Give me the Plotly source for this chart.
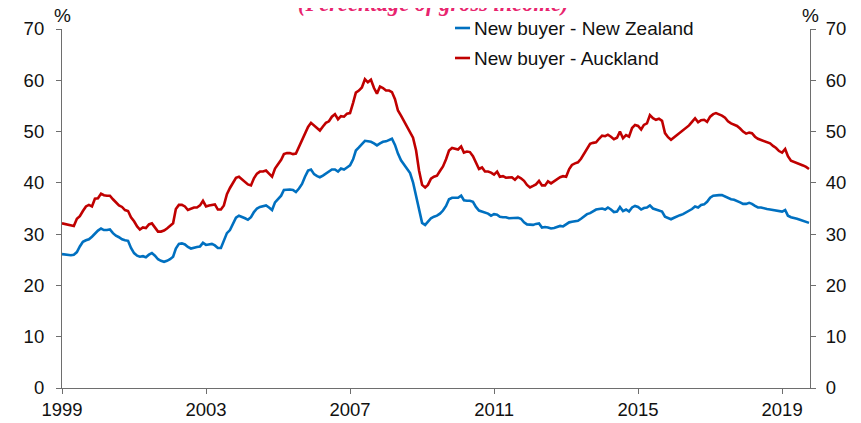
import pandas as pd
import plotly.graph_objects as go

start_month = "1999-01-01"

nz = [
    26.1, 26.0, 25.9, 25.9, 26.0, 26.5, 27.6, 28.5, 28.8, 29.0, 29.5, 30.2,
    30.7, 31.1, 30.8, 30.8, 30.9, 30.2, 29.7, 29.4, 29.0, 28.8, 28.7, 27.3,
    26.3, 25.8, 25.6, 25.7, 25.5, 26.0, 26.3, 25.8, 25.1, 24.8, 24.6, 24.8,
    25.1, 25.6, 27.2, 28.1, 28.2, 28.0, 27.5, 27.2, 27.4, 27.5, 27.6, 28.3,
    27.9, 28.0, 28.1, 27.8, 27.3, 27.3, 28.8, 30.2, 30.8, 32.1, 33.2, 33.6,
    33.4, 33.1, 32.8, 33.3, 34.3, 35.0, 35.3, 35.4, 35.6, 35.2, 34.7, 36.2,
    36.9, 37.5, 38.6, 38.7, 38.7, 38.6, 38.2, 38.9, 39.8, 41.2, 42.4, 42.6,
    41.7, 41.3, 41.1, 41.4, 41.8, 42.3, 42.6, 42.6, 42.2, 42.8, 42.6, 43.0,
    43.4, 44.6, 46.3, 46.9, 47.5, 48.2, 48.1, 48.0, 47.7, 47.3, 47.7, 48.0,
    48.1, 48.4, 48.6, 47.4, 45.7, 44.4, 43.5, 42.7, 41.9, 40.1, 37.2, 34.5,
    32.2, 31.8, 32.4, 33.1, 33.4, 33.6, 34.0, 34.6, 35.5, 36.8, 37.1, 37.1,
    37.1, 37.5, 36.6, 36.5, 36.5, 36.3, 35.3, 34.6, 34.4, 34.2, 34.0, 33.6,
    33.9, 33.8, 33.4, 33.3, 33.3, 33.1, 33.1, 33.1, 33.2, 33.0, 32.3, 31.9,
    31.8, 31.8, 32.0, 32.1, 31.3, 31.4, 31.3, 31.1, 31.2, 31.4, 31.6, 31.5,
    31.9, 32.3, 32.4, 32.5, 32.6, 33.0, 33.5, 33.9, 34.1, 34.4, 34.8, 34.9,
    35.0, 34.8, 35.2, 34.8, 34.3, 34.4, 35.3, 34.5, 34.8, 34.4, 35.2, 35.5,
    35.3, 34.8, 35.1, 35.2, 35.6, 35.0, 34.8, 34.7, 34.4, 33.4, 33.1, 32.9,
    33.2, 33.5, 33.7, 33.9, 34.2, 34.5, 34.9, 35.4, 35.2, 35.7, 35.8, 36.3,
    37.1, 37.5, 37.6, 37.6, 37.6, 37.3, 37.0, 36.8, 36.7, 36.5, 36.2, 35.9,
    35.9, 36.1, 35.9, 35.5, 35.2, 35.2, 35.0, 34.9, 34.8, 34.7, 34.5, 34.4,
    34.4, 34.7, 33.6, 33.3, 33.2, 33.0, 32.8, 32.6, 32.4, 32.2,
]

akl = [
    32.1, 32.0, 31.9, 31.7, 31.6, 33.0, 33.5, 34.5, 35.4, 35.7, 35.4, 36.9,
    37.0, 37.9, 37.6, 37.5, 37.5, 36.8, 36.1, 35.6, 35.3, 34.7, 34.5, 33.3,
    32.5, 31.5, 30.9, 31.3, 31.2, 31.9, 32.1, 31.2, 30.5, 30.5, 30.7, 31.1,
    31.6, 32.1, 34.9, 35.7, 35.7, 35.4, 34.7, 35.0, 35.2, 35.2, 35.6, 36.5,
    35.4, 35.6, 35.7, 35.8, 34.8, 34.8, 35.6, 37.8, 39.0, 40.1, 41.0, 41.2,
    40.7, 40.2, 39.7, 39.5, 40.9, 41.8, 42.2, 42.2, 42.4, 41.8, 41.2, 42.8,
    43.6, 44.5, 45.6, 45.8, 45.8, 45.6, 45.7, 47.1, 48.5, 49.6, 50.9, 51.7,
    51.2, 50.7, 50.2, 51.0, 51.7, 52.0, 52.9, 53.4, 52.4, 53.0, 52.9, 53.5,
    53.6, 55.6, 57.6, 58.0, 58.6, 60.2, 59.6, 60.1, 58.5, 57.4, 58.8, 58.5,
    58.0, 58.0, 57.7, 56.3, 54.1, 53.1, 52.0, 51.0, 49.9, 48.8, 46.3, 42.4,
    39.6, 39.1, 39.6, 40.8, 41.2, 41.4, 42.3, 43.2, 44.6, 46.3, 46.8, 46.7,
    46.5, 47.1, 45.9, 46.1, 46.0, 45.2, 43.8, 42.7, 43.0, 42.2, 42.2, 42.0,
    41.6, 42.2, 41.2, 41.3, 41.0, 41.0, 41.1, 40.6, 41.2, 40.9, 40.4, 39.6,
    39.1, 39.4, 39.7, 40.4, 39.5, 39.5, 40.3, 39.9, 40.3, 40.7, 41.1, 41.3,
    41.2, 42.7, 43.5, 43.8, 44.0, 44.7, 45.6, 46.8, 47.6, 47.8, 47.9, 48.6,
    49.2, 49.1, 49.4, 49.0, 48.5, 48.8, 50.0, 48.7, 49.3, 49.0, 50.7, 51.3,
    51.1, 50.4, 51.3, 51.6, 53.2, 52.6, 52.3, 52.5, 52.1, 49.7, 48.9, 48.4,
    48.9, 49.4, 49.8, 50.3, 50.8, 51.2, 51.9, 52.6, 51.8, 52.2, 52.3, 51.9,
    52.9, 53.4, 53.6, 53.4, 53.1, 52.7, 52.0, 51.6, 51.4, 51.1, 50.6, 50.0,
    49.6, 49.8, 49.7, 49.0, 48.6, 48.4, 48.2, 48.0, 47.7, 47.2, 46.8, 46.2,
    45.9, 46.6, 45.2, 44.3, 44.1, 43.8, 43.6, 43.4, 43.1, 42.7,
]

series_names = ["New buyer - New Zealand", "New buyer - Auckland"]
x_tick_dates = ["1999-01-01", "2003-01-01", "2007-01-01", "2011-01-01", "2015-01-01", "2019-01-01"]
x_tick_labels = ["1999", "2003", "2007", "2011", "2015", "2019"]
y_ticks = [0, 10, 20, 30, 40, 50, 60, 70]
title_text = "(Percentage of gross income)"

dates = pd.date_range(start_month, periods=len(nz), freq="MS")

BLUE = "#0070C0"
RED = "#C00000"
AXIS = "#6e6e6e"
FONT = "Liberation Sans, Arial, sans-serif"
colors = [BLUE, RED]

fig = go.Figure()
fig.add_trace(go.Scatter(x=dates, y=nz, mode="lines", name=series_names[0],
                         line=dict(color=BLUE, width=2.6), yaxis="y"))
fig.add_trace(go.Scatter(x=dates, y=akl[:len(dates)], mode="lines", name=series_names[1],
                         line=dict(color=RED, width=2.6), yaxis="y2"))

axis_common = dict(
    showgrid=False, zeroline=False, showline=True, linecolor=AXIS, linewidth=1.2,
    ticks="outside", ticklen=5, tickcolor=AXIS, tickwidth=1.2, automargin=False,
    tickfont=dict(family=FONT, size=18.5, color="#111111"),
)

# Legend drawn as key lines + text (placed just above / inside the plot top)
legend_x_line0, legend_x_line1, legend_x_text = 0.5254, 0.5455, 0.5481
legend_row_shift = [1, -29]
shapes = []
annotations = []
for name, col, dy in zip(series_names, colors, legend_row_shift):
    shapes.append(dict(type="line", xref="paper", yref="paper",
                       ysizemode="pixel", yanchor=1.0,
                       x0=legend_x_line0, x1=legend_x_line1, y0=dy, y1=dy,
                       line=dict(color=col, width=2.6)))
    annotations.append(dict(text=name, xref="paper", yref="paper",
                            x=legend_x_text, y=1.0, yshift=dy,
                            xanchor="left", yanchor="middle", showarrow=False,
                            font=dict(family=FONT, size=19, color="#111111")))

annotations += [
    dict(text="%", xref="paper", yref="paper", x=0, y=1.0, yshift=1,
         xanchor="center", yanchor="bottom", showarrow=False,
         font=dict(family=FONT, size=19, color="#111111")),
    dict(text="%", xref="paper", yref="paper", x=1, y=1.0, yshift=1,
         xanchor="center", yanchor="bottom", showarrow=False,
         font=dict(family=FONT, size=19, color="#111111")),
    dict(text="<b><i>" + title_text + "</i></b>", xref="paper", yref="paper",
         x=0.496, y=1.0, yshift=26, xanchor="center", yanchor="middle", showarrow=False,
         font=dict(family="Liberation Serif, Times New Roman, serif", size=22.5, color="#E8246E")),
]

fig.update_layout(
    width=861, height=423,
    margin=dict(l=54, r=59, t=21, b=43),
    paper_bgcolor="white", plot_bgcolor="white",
    showlegend=False,
    xaxis=dict(type="date", range=["1999-01-01", "2019-10-11"],
               tickmode="array", tickvals=x_tick_dates, ticktext=x_tick_labels,
               **axis_common),
    yaxis=dict(range=[0, 70], tickmode="array", tickvals=y_ticks, side="left",
               ticklabelstandoff=8, **axis_common),
    yaxis2=dict(range=[0, 70], tickmode="array", tickvals=y_ticks, side="right",
                overlaying="y", ticklabelstandoff=6, **axis_common),
    shapes=shapes,
    annotations=annotations,
)

fig.write_html("out.html")
